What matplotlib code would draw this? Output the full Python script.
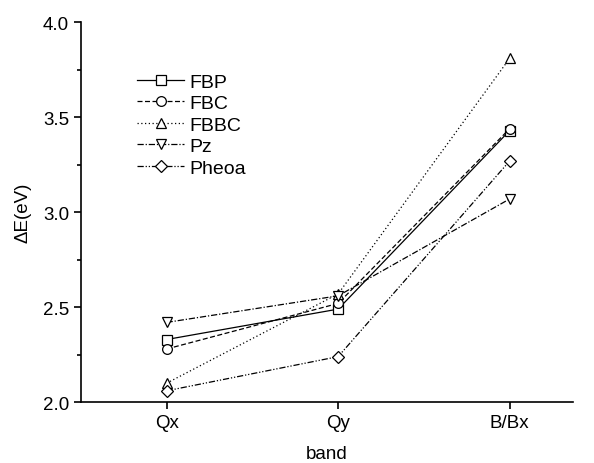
import numpy as np
import matplotlib.pyplot as plt
from matplotlib.ticker import MultipleLocator

plt.rcParams['font.family'] = ['Liberation Sans', 'DejaVu Sans']

bands = ['Qx', 'Qy', 'B/Bx']
fbp = [2.33, 2.49, 3.43]
fbc = [2.28, 2.52, 3.44]
fbbc = [2.10, 2.57, 3.81]
pz = [2.42, 2.56, 3.07]
pheoa = [2.06, 2.24, 3.27]

x = np.arange(1, len(bands) + 1)

fig = plt.figure(figsize=(5.94, 4.64), dpi=100)
ax = fig.add_axes([0.136, 0.131, 0.829, 0.819])

style = dict(color='black', lw=0.9, ms=7, mfc='white', mew=0.9)
ax.plot(x, fbp, ls='-', marker='s', label='FBP', **style)
ax.plot(x, fbc, ls=(0, (4, 2)), marker='o', label='FBC', **style)
ax.plot(x, fbbc, ls=(0, (1, 2)), marker='^', label='FBBC', **style)
ax.plot(x, pz, ls=(0, (5, 1.5, 1, 1.5)), marker='v', label='Pz', **style)
ax.plot(x, pheoa, ls=(0, (5, 1.5, 1, 1.5, 1, 1.5)), marker='D', label='Pheoa', **style)
# diamond marker is a bit big by default
ax.lines[-1].set_markersize(6)

ax.set_xlim(0.5, 3.37)
ax.set_ylim(2.0, 4.0)
ax.set_xticks(x)
ax.set_xticklabels(bands)
ax.yaxis.set_major_locator(MultipleLocator(0.5))
ax.yaxis.set_minor_locator(MultipleLocator(0.25))
ax.yaxis.set_major_formatter(plt.FormatStrFormatter('%.1f'))

for s in ['top', 'right']:
    ax.spines[s].set_visible(False)
for s in ['left', 'bottom']:
    ax.spines[s].set_linewidth(1.2)

ax.tick_params(axis='both', which='major', direction='out', length=5, width=1.2, labelsize=13.5)
ax.tick_params(axis='y', which='minor', direction='out', length=3, width=1.2)

ax.set_xlabel('band', fontsize=13.5, labelpad=10)
ax.set_ylabel('ΔE(eV)', fontsize=13.5, labelpad=8)

ax.legend(loc='upper left', bbox_to_anchor=(0.079, 0.912), frameon=False, fontsize=14,
          handlelength=2.4, handletextpad=0.3, labelspacing=0.2)

fig.savefig('out.png', dpi=100)
